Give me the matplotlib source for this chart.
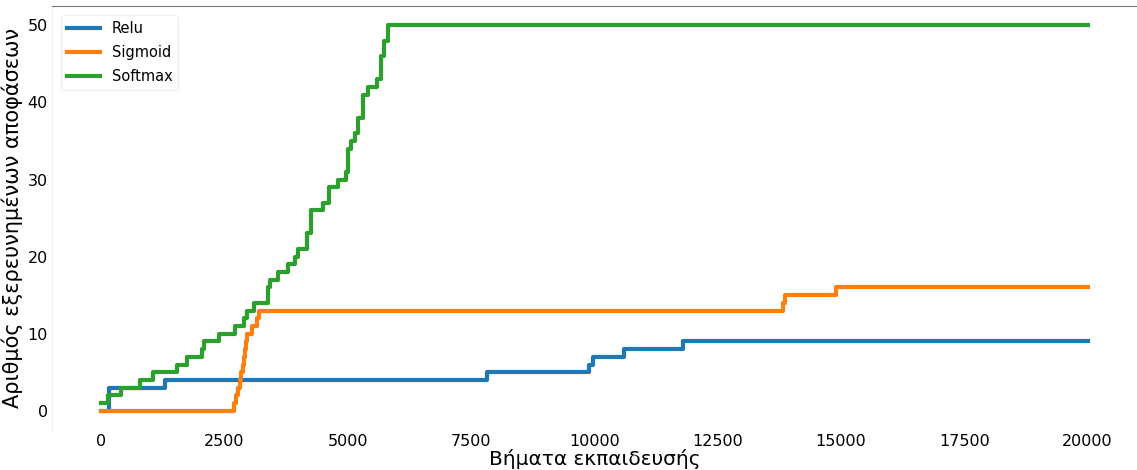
import matplotlib.pyplot as plt

# step data (x = training step, y = explored decisions)
relu_x = [0, 150, 1300, 7830, 9880, 9960, 10590, 11790, 20000]
relu_y = [0, 3, 4, 5, 6, 7, 8, 9, 9]

sigmoid_x = [0, 2700, 2740, 2780, 2810, 2840, 2880, 2900, 2920, 2940, 2960,
             3050, 3150, 3200, 13830, 13870, 14900, 20000]
sigmoid_y = [0, 1, 2, 3, 4, 5, 6, 7, 8, 9, 10,
             11, 12, 13, 14, 15, 16, 16]

softmax_x = [0, 140, 390, 790, 1050, 1540, 1740, 2040, 2090, 2390, 2720,
             2900, 2960, 3100, 3380, 3430, 3590, 3790, 3930, 3980, 4170,
             4260, 4500, 4620, 4800, 4970, 5000, 5070, 5150, 5210, 5310,
             5400, 5600, 5680, 5740, 5820, 20000]
softmax_y = [1, 2, 3, 4, 5, 6, 7, 8, 9, 10, 11,
             12, 13, 14, 16, 17, 18, 19, 20, 21, 23,
             26, 27, 29, 30, 31, 34, 35, 36, 38, 41,
             42, 43, 46, 48, 50, 50]

fig = plt.figure(figsize=(11.37, 4.70), dpi=100)
ax = fig.add_axes([0.0457, 0.085, 0.9543, 0.902])

ax.plot(relu_x, relu_y, drawstyle="steps-post", lw=3, color="#1f77b4", label="Relu")
ax.plot(sigmoid_x, sigmoid_y, drawstyle="steps-post", lw=3, color="#ff7f0e", label="Sigmoid")
ax.plot(softmax_x, softmax_y, drawstyle="steps-post", lw=3, color="#2ca02c", label="Softmax")

ax.set_xlim(-1000, 21000)
ax.set_ylim(-2.5, 52.5)
ax.set_xticks([0, 2500, 5000, 7500, 10000, 12500, 15000, 17500, 20000])
ax.set_yticks([0, 10, 20, 30, 40, 50])
ax.tick_params(length=0, labelsize=11.5, pad=3)

ax.spines["right"].set_visible(False)
ax.spines["bottom"].set_visible(False)
ax.spines["top"].set_color("#777777")
ax.spines["left"].set_color("#f0f0f0")

ax.set_xlabel("Βήματα εκπαιδευσής", fontsize=14.5, labelpad=0)
ax.set_ylabel("Αριθμός εξερευνημένων αποφάσεων", fontsize=15, labelpad=3)

ax.legend(loc="upper left", fontsize=10.5, frameon=True, edgecolor="#eeeeee",
          handlelength=2.3, labelspacing=0.62, borderaxespad=0.6)

fig.savefig("out.png", dpi=100)
